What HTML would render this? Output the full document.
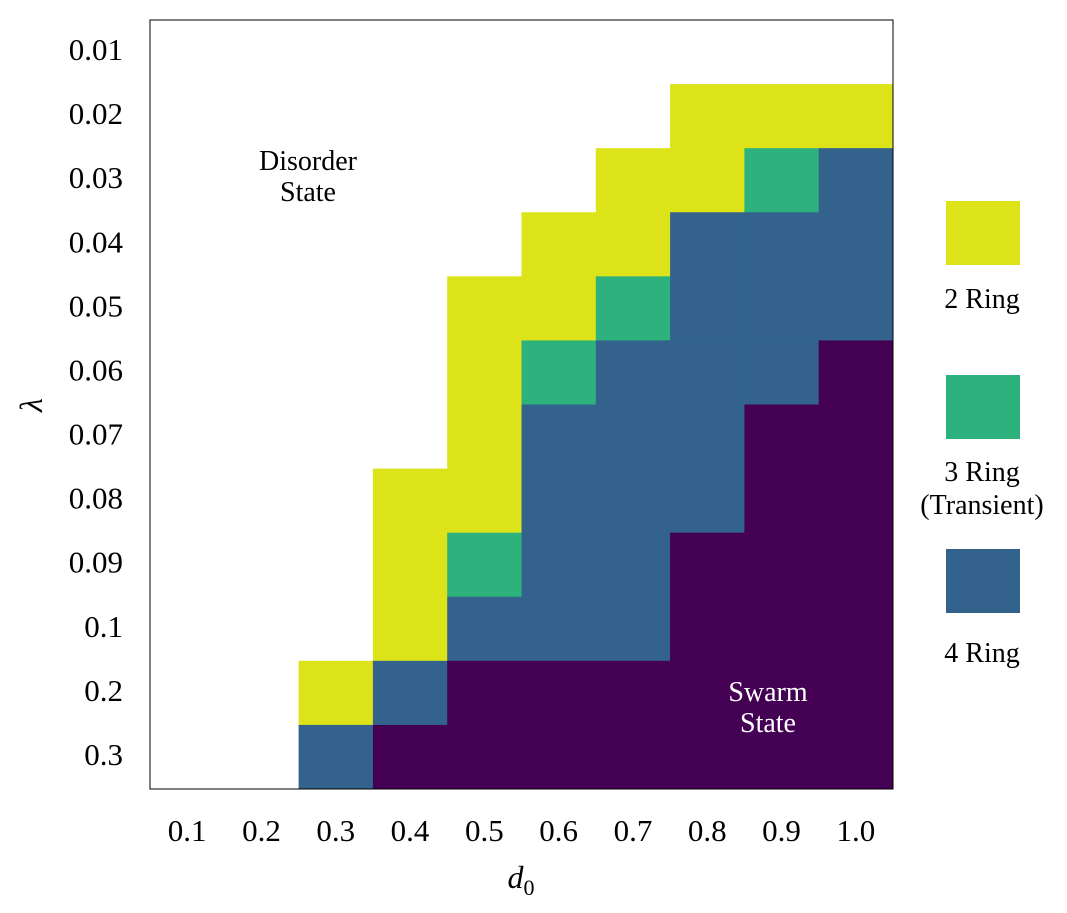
<!DOCTYPE html>
<html><head><meta charset="utf-8"><style>
body{margin:0;background:#fff;}
svg{display:block;font-family:"Liberation Serif",serif;}
</style></head><body>
<svg id="chart" width="1067" height="913" xmlns="http://www.w3.org/2000/svg">
<g id="cells"></g>
<rect x="150" y="20" width="743" height="769" fill="none" stroke="#000" stroke-width="1"/>
<g id="xticks" font-size="31" text-anchor="middle"></g>
<g id="yticks" font-size="31" text-anchor="end"></g>
<text x="521" y="888" font-size="32" font-style="italic" text-anchor="middle">d<tspan font-size="22" dy="7" font-style="normal">0</tspan></text>
<text x="42" y="405" font-size="32" font-style="italic" text-anchor="middle" transform="rotate(-90 42 405)">λ</text>
<text x="308" y="170" font-size="28" text-anchor="middle"><tspan x="308">Disorder</tspan><tspan x="308" dy="31">State</tspan></text>
<text x="768" y="701" font-size="28" fill="#fff" text-anchor="middle"><tspan x="768">Swarm</tspan><tspan x="768" dy="31">State</tspan></text>
<g font-size="28" text-anchor="middle">
<rect x="946" y="201" width="74" height="64" fill="#dce319"/>
<text x="982" y="308">2 Ring</text>
<rect x="946" y="375" width="74" height="64" fill="#2db27d"/>
<text x="982" y="481"><tspan x="982">3 Ring</tspan><tspan x="982" dy="33">(Transient)</tspan></text>
<rect x="946" y="549" width="74" height="64" fill="#33638d"/>
<text x="982" y="662">4 Ring</text>
</g>
</svg>
<script>
const xLabels=["0.1","0.2","0.3","0.4","0.5","0.6","0.7","0.8","0.9","1.0"];
const yLabels=["0.01","0.02","0.03","0.04","0.05","0.06","0.07","0.08","0.09","0.1","0.2","0.3"];
const states=[
[0,0,0,0,0,0,0,0,0,0],
[0,0,0,0,0,0,0,1,1,1],
[0,0,0,0,0,0,1,1,2,3],
[0,0,0,0,0,1,1,3,3,3],
[0,0,0,0,1,1,2,3,3,3],
[0,0,0,0,1,2,3,3,3,4],
[0,0,0,0,1,3,3,3,4,4],
[0,0,0,1,1,3,3,3,4,4],
[0,0,0,1,2,3,3,4,4,4],
[0,0,0,1,3,3,3,4,4,4],
[0,0,1,3,4,4,4,4,4,4],
[0,0,3,4,4,4,4,4,4,4]];
const colors=["#ffffff","#dce319","#2db27d","#33638d","#440154"];
const X0=150,X1=893,Y0=20,Y1=789;
const cw=(X1-X0)/xLabels.length, ch=(Y1-Y0)/yLabels.length;
const xs=i=>X0+i*cw, ys=j=>Y0+j*ch;
const NS="http://www.w3.org/2000/svg";
const cells=document.getElementById('cells');
states.forEach((row,j)=>row.forEach((v,i)=>{
 if(v===0)return;
 const r=document.createElementNS(NS,'rect');
 r.setAttribute('x',xs(i));r.setAttribute('y',ys(j));
 r.setAttribute('width',cw+0.5);r.setAttribute('height',ch+0.5);
 r.setAttribute('fill',colors[v]);
 
 
 cells.appendChild(r);
}));
const xt=document.getElementById('xticks');
xLabels.forEach((l,i)=>{
 const t=document.createElementNS(NS,'text');
 t.setAttribute('x',xs(i)+cw/2);t.setAttribute('y',841);t.textContent=l;
 
 
 xt.appendChild(t);
});
const yt=document.getElementById('yticks');
yLabels.forEach((l,j)=>{
 const t=document.createElementNS(NS,'text');
 t.setAttribute('x',123);t.setAttribute('y',ys(j)+ch/2+8);t.textContent=l;
 
 
 yt.appendChild(t);
});
</script>
</body></html>
